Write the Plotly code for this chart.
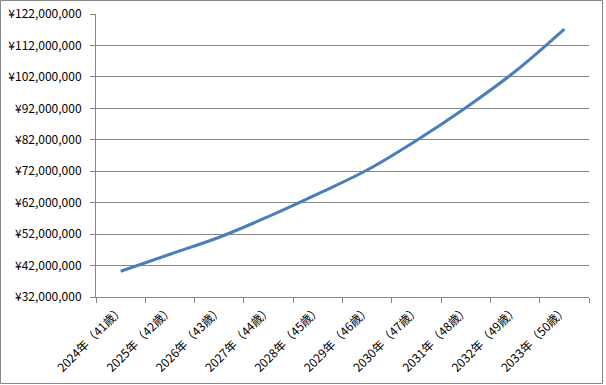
import plotly.graph_objects as go

categories = ["2024年（41歳）", "2025年（42歳）", "2026年（43歳）", "2027年（44歳）", "2028年（45歳）",
              "2029年（46歳）", "2030年（47歳）", "2031年（48歳）", "2032年（49歳）", "2033年（50歳）"]
values = [40200000, 45600000, 51000000, 57600000, 64800000,
          72400000, 81800000, 92200000, 103700000, 117200000]
y_ticks = list(range(32000000, 122000001, 10000000))

W, H = 606, 385
L, R, T, B = 96, 17, 14, 88
pw, ph = W - L - R, H - T - B

GRID = "#868686"
FONT = "Noto Sans CJK JP"

fig = go.Figure()
fig.add_trace(go.Scatter(
    x=categories, y=values, mode="lines",
    line=dict(color="#4A7EBB", width=3, shape="spline", smoothing=1.0),
    hoverinfo="skip", showlegend=False,
))

fig.update_layout(
    width=W, height=H,
    margin=dict(l=L, r=R, t=T, b=B, pad=0),
    paper_bgcolor="white", plot_bgcolor="white",
    font=dict(family=FONT, size=12, color="#000000"),
    xaxis=dict(
        type="category", tickson="boundaries", ticks="outside", ticklen=5,
        tickcolor=GRID, showline=True, linecolor=GRID, linewidth=1,
        showgrid=False, tickangle=-45, tickfont=dict(family=FONT, size=12),
        range=[-0.5, len(categories) - 0.5], automargin=False,
    ),
    yaxis=dict(
        range=[32000000, 122000000], tickvals=y_ticks,
        ticktext=["¥{:,}".format(v) for v in y_ticks],
        ticks="outside", ticklen=5, tickcolor=GRID,
        showline=True, linecolor=GRID, linewidth=1,
        showgrid=True, gridcolor=GRID, gridwidth=1, zeroline=False,
        tickfont=dict(family=FONT, size=12), ticklabelstandoff=6,
        automargin=False,
    ),
)

# outer chart border
fig.add_shape(
    type="rect", xref="paper", yref="paper",
    x0=(0.5 - L) / pw, x1=(602.5 - L) / pw,
    y0=(H - B - 383.5) / ph, y1=(H - B - 0.5) / ph,
    line=dict(color=GRID, width=1), fillcolor="rgba(0,0,0,0)", layer="below",
)

fig.write_html("out.html")
